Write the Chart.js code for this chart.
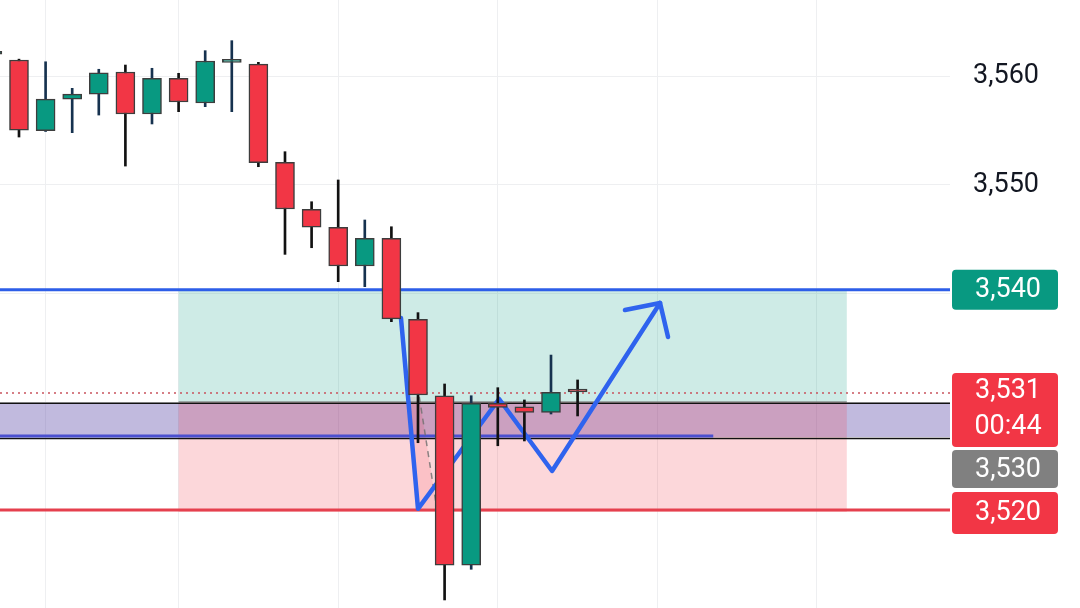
<!DOCTYPE html>
<html>
<head>
<meta charset="utf-8">
<script src="https://cdn.jsdelivr.net/npm/chart.js@4.4.0/dist/chart.umd.min.js"></script>
<style>
    html, body { margin: 0; padding: 0; background: #fff; }
    #wrap { width: 1080px; height: 608px; }
</style>
</head>
<body>
<div id="wrap"><canvas id="grafico" width="1080" height="608"></canvas></div>
<script>
// velas (indice da vela, abertura, fechamento, maxima, minima)
const idx    = [-1, 0, 1, 2, 3, 4, 5, 6, 7, 8, 9, 10, 11, 12, 13, 14, 15, 16, 17, 18, 19, 20, 21];
const opens  = [3562.0, 3561.47, 3554.97, 3557.88, 3558.34, 3560.37, 3556.51, 3559.79, 3557.52, 3561.25, 3561.10,
                3552.06, 3547.74, 3546.09, 3542.53, 3545.08, 3537.63, 3530.60, 3515.03, 3529.90, 3529.59, 3529.07, 3531.06];
const closes = [3562.2, 3555.03, 3557.88, 3558.34, 3560.30, 3556.51, 3559.79, 3557.61, 3561.38, 3561.35, 3552.03,
                3547.77, 3546.11, 3542.53, 3545.08, 3537.66, 3530.67, 3515.03, 3529.90, 3529.53, 3529.07, 3530.91, 3530.94];
const highs  = [3562.6, 3561.55, 3561.31, 3558.87, 3560.62, 3561.01, 3560.71, 3560.25, 3562.33, 3563.25, 3561.26,
                3553.04, 3548.44, 3550.44, 3546.76, 3546.14, 3538.24, 3531.68, 3530.60, 3531.34, 3530.21, 3534.34, 3532.05];
const lows   = [3561.5, 3554.39, 3554.90, 3554.79, 3556.41, 3551.72, 3555.59, 3556.72, 3557.18, 3556.72, 3551.66,
                3543.60, 3544.21, 3541.09, 3540.63, 3537.41, 3526.28, 3511.82, 3514.64, 3526.00, 3526.44, 3528.92, 3528.74];

// niveis desenhados
const tpPrice = 3540.35;
const entryPrice = 3530;
const slPrice = 3520.1;
const lastPrice = closes[closes.length - 1];
const bandTop = 3529.9;
const bandBottom = 3526.8;
const zoneStart = 6;
const zoneEnd = 31.12;
const bandLineEnd = 26.1;
const countdown = "00:44";

// eixo
const gridIdx = [1, 6, 12, 18, 24, 30];
const yTicks = [3510, 3520, 3530, 3540, 3550, 3560];
const xMin = -0.714, xMax = 35.0;
const yMin = 3511.08, yMax = 3566.99;

// desenho a mao (seta azul)
const zigX = [14.36, 15.0, 18.05, 20.04, 24.1];
const zigY = [3537.75, 3520.2, 3530.3, 3523.68, 3539.13];
const headX = [22.78, 24.1, 24.4];
const headY = [3538.48, 3539.13, 3536.0];
const dashX = [15.05, 15.7];
const dashY = [3530.5, 3520.3];
const wedgeX = [14.63, 15.05, 15.7, 15.0];
const wedgeY = [3530.5, 3530.5, 3520.3, 3520.2];

const red = '#f23645';
const green = '#089981';
const fonte = 'Roboto, "Noto Sans", sans-serif';

const up = idx.map((v, i) => closes[i] >= opens[i]);

const fmt = v => Math.round(v).toLocaleString('en-US');

const niveis = {
    id: 'niveis',
    beforeDatasetsDraw(chart) {
        const ctx = chart.ctx, ca = chart.chartArea;
        const xs = chart.scales.x, ys = chart.scales.y;
        const w = ca.right - ca.left;
        ctx.save();
        ctx.beginPath();
        ctx.rect(ca.left, ca.top, w, ca.bottom - ca.top);
        ctx.clip();

        // faixa roxa
        const bt = ys.getPixelForValue(bandTop), bb = ys.getPixelForValue(bandBottom);
        ctx.fillStyle = 'rgba(100,83,173,0.4)';
        ctx.fillRect(ca.left, bt, w, bb - bt);

        // zonas da posicao
        const zl = xs.getPixelForValue(zoneStart), zr = xs.getPixelForValue(zoneEnd);
        const yt = ys.getPixelForValue(tpPrice), ye = ys.getPixelForValue(entryPrice), yl = ys.getPixelForValue(slPrice);
        ctx.fillStyle = 'rgba(8,153,129,0.2)';
        ctx.fillRect(zl, yt, zr - zl, ye - yt);
        ctx.fillStyle = 'rgba(242,54,69,0.2)';
        ctx.fillRect(zl, ye, zr - zl, yl - ye + 2);

        // cunha rosa entre a seta e o tracejado
        ctx.fillStyle = 'rgba(242,54,69,0.14)';
        ctx.beginPath();
        wedgeX.forEach((x, i) => ctx.lineTo(xs.getPixelForValue(x), ys.getPixelForValue(wedgeY[i])));
        ctx.closePath();
        ctx.fill();

        const linha = (x1, x2, y, cor, lw, dash) => {
            ctx.beginPath();
            ctx.setLineDash(dash || []);
            ctx.strokeStyle = cor;
            ctx.lineWidth = lw;
            ctx.moveTo(x1, y);
            ctx.lineTo(x2, y);
            ctx.stroke();
        };

        linha(zl, zr, ye - 0.5, 'rgba(120,120,120,0.8)', 1);
        linha(ca.left, ca.right, bt, '#111', 1.5);
        linha(ca.left, ca.right, bb + 1.5, '#111', 1.5);
        linha(ca.left, xs.getPixelForValue(bandLineEnd), bb - 1, '#4a50d0', 3);
        linha(ca.left, ca.right, yt, '#2d5ee8', 3);
        linha(ca.left, ca.right, yl, '#e5404e', 3);
        linha(ca.left, ca.right, ys.getPixelForValue(lastPrice) + 1, '#c9535d', 1.5, [2, 4]);
        ctx.restore();
    }
};

const rotulos = {
    id: 'rotulos',
    afterDraw(chart) {
        const ctx = chart.ctx, ys = chart.scales.y;
        const bx = 952, bw = 106, cx = 1008;
        ctx.save();
        ctx.font = '27px ' + fonte;
        ctx.textAlign = 'center';
        ctx.textBaseline = 'middle';

        const caixa = (top, h, cor, textos) => {
            ctx.fillStyle = cor;
            ctx.beginPath();
            ctx.roundRect(bx, top, bw, h, 4);
            ctx.fill();
            ctx.fillStyle = '#fff';
            textos.forEach(t => ctx.fillText(t[0], cx, top + t[1]));
        };

        const yt = ys.getPixelForValue(tpPrice);
        caixa(yt - 20, 40, green, [[fmt(tpPrice), 21]]);

        const yp = ys.getPixelForValue(lastPrice);
        const topP = yp - 19;
        caixa(topP, 74, red, [[fmt(lastPrice), 18], [countdown, 54]]);
        caixa(topP + 77, 38, '#808080', [[fmt(entryPrice), 20]]);

        const yl = ys.getPixelForValue(slPrice);
        caixa(yl - 18, 42, red, [[fmt(slPrice), 21]]);

        // rotulo cortado na borda de baixo
        ctx.fillStyle = '#131722';
        ctx.fillText(fmt(3510), cx, ys.getPixelForValue(3510) + 2);
        ctx.restore();
    }
};

new Chart("grafico", {
    type: "bar",
    data: {
        datasets: [{
            label: "corpo",
            data: idx.map((x, i) => ({ x: x, y: [opens[i], closes[i]] })),
            backgroundColor: up.map(u => u ? green : red),
            borderColor: '#3d3d3d',
            borderWidth: 1.5,
            borderSkipped: false,
            barThickness: 19,
            minBarLength: 3,
            order: 0
        }, {
            label: "pavio",
            data: idx.map((x, i) => ({ x: x, y: [lows[i], highs[i]] })),
            backgroundColor: up.map(u => u ? '#16324f' : '#111'),
            borderWidth: 0,
            barThickness: 2,
            order: 1
        }, {
            type: "line",
            label: "seta",
            data: zigX.map((x, i) => ({ x: x, y: zigY[i] })),
            borderColor: '#2f63ee',
            borderWidth: 4.5,
            borderJoinStyle: 'round',
            borderCapStyle: 'round',
            pointRadius: 0,
            tension: 0,
            order: 2
        }, {
            type: "line",
            label: "ponta",
            data: headX.map((x, i) => ({ x: x, y: headY[i] })),
            borderColor: '#2f63ee',
            borderWidth: 4.5,
            borderJoinStyle: 'round',
            borderCapStyle: 'round',
            pointRadius: 0,
            tension: 0,
            order: 2
        }, {
            type: "line",
            label: "tracejado",
            data: dashX.map((x, i) => ({ x: x, y: dashY[i] })),
            borderColor: 'rgba(110,110,110,0.8)',
            borderWidth: 1.5,
            borderDash: [6, 5],
            pointRadius: 0,
            order: 2
        }]
    },
    options: {
        responsive: false,
        animation: false,
        devicePixelRatio: 1,
        datasets: { bar: { grouped: false } },
        layout: { padding: 0 },
        plugins: {
            legend: { display: false },
            tooltip: { enabled: false }
        },
        scales: {
            x: {
                type: 'linear',
                min: xMin,
                max: xMax,
                offset: false,
                grid: {
                    offset: false,
                    color: '#eeeff1',
                    drawTicks: false
                },
                border: { display: false },
                ticks: { display: false },
                afterBuildTicks: s => { s.ticks = gridIdx.map(v => ({ value: v })); },
                afterFit: s => { s.height = 0; s.paddingLeft = 0; s.paddingRight = 0; }
            },
            y: {
                type: 'linear',
                position: 'right',
                min: yMin,
                max: yMax,
                grid: {
                    color: '#eeeff1',
                    drawTicks: false
                },
                border: { display: false },
                ticks: {
                    padding: 23,
                    color: '#131722',
                    font: { family: fonte, size: 27 },
                    callback: v => (v >= 3550 ? fmt(v) : '')
                },
                afterBuildTicks: s => { s.ticks = yTicks.filter(v => v >= yMin && v <= yMax).map(v => ({ value: v })); },
                afterFit: s => { s.width = 130; s.paddingTop = 0; s.paddingBottom = 0; }
            }
        }
    },
    plugins: [niveis, rotulos]
});
</script>
</body>
</html>
